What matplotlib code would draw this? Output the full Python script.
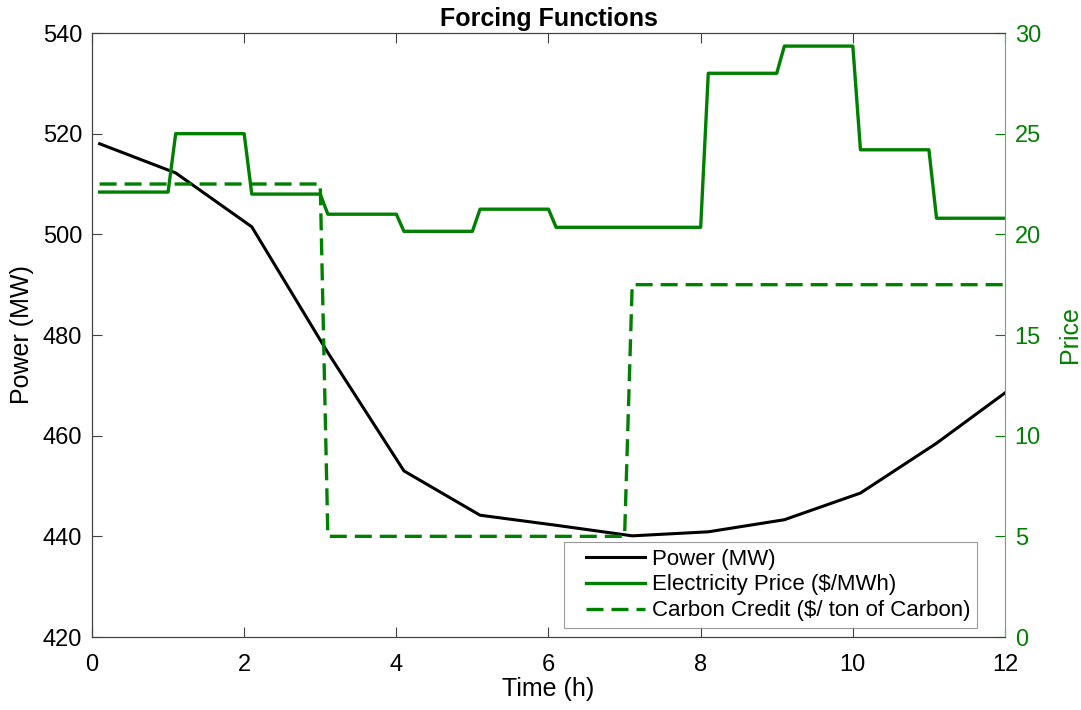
import numpy as np
import matplotlib.pyplot as plt
from matplotlib.lines import Line2D
from matplotlib.legend_handler import HandlerLine2D

plt.rcParams['font.family'] = ['Liberation Sans', 'DejaVu Sans']

# power samples (MW)
t_power = [0.1, 1.1, 2.1, 3.1, 4.1, 5.1, 6.1, 7.1, 8.1, 9.1, 10.1, 11.1, 12.0]
power = [518.0, 512.2, 501.5, 476.5, 453.0, 444.2, 442.2, 440.1, 440.9, 443.3, 448.6, 458.5, 468.5]

# hourly blocks, each held from h+0.1 to h+1.0
hours = list(range(12))
elec_price = [22.1, 25.0, 22.0, 21.0, 20.15, 21.25, 20.35, 20.35, 28.0, 29.35, 24.2, 20.8]
carbon_credit = [22.5, 22.5, 22.5, 5.0, 5.0, 5.0, 5.0, 17.5, 17.5, 17.5, 17.5, 17.5]


def blocks(vals):
    xs, ys = [], []
    for h, v in zip(hours, vals):
        xs += [h + 0.1, h + 1.0]
        ys += [v, v]
    xs[-1] = 12.0
    return xs, ys


class PadLeft(HandlerLine2D):
    # legend line starts a bit further in, like matlab
    def create_artists(self, legend, orig_handle, xdescent, ydescent, width,
                       height, fontsize, trans):
        arts = super().create_artists(legend, orig_handle, xdescent, ydescent,
                                      width, height, fontsize, trans)
        x = np.array(arts[0].get_xdata(), dtype=float)
        x[0] += 0.7 * fontsize
        arts[0].set_xdata(x)
        return arts


green = '#008000'
axcol = '#404040'
dash = (0, (5.1, 2.4))

fig = plt.figure(figsize=(10.81, 7.10), dpi=100)
ax = fig.add_axes([0.0851, 0.1028, 0.8446, 0.8507])
ax2 = ax.twinx()

ax.plot(t_power, power, color='black', lw=2.2)
xe, ye = blocks(elec_price)
ax2.plot(xe, ye, color=green, lw=2.4)
xc, yc = blocks(carbon_credit)
ax2.plot(xc, yc, color=green, lw=2.4, ls=dash)

ax.set_xlim(0, 12)
ax.set_ylim(420, 540)
ax2.set_ylim(0, 30)
ax.set_xticks(range(0, 13, 2))
ax.set_yticks(range(420, 541, 20))
ax2.set_yticks(range(0, 31, 5))

ax.tick_params(direction='in', length=7, width=0.8, labelsize=17, colors='black',
               top=True, pad=7)
ax.tick_params(axis='x', pad=12)
ax.tick_params(axis='both', color=axcol)
ax2.tick_params(direction='in', length=7, width=0.8, labelsize=17, colors=green, pad=7)
for s in ['left', 'top', 'bottom']:
    ax.spines[s].set_color(axcol)
    ax2.spines[s].set_color(axcol)
ax2.spines['right'].set_color('#60b060')
ax.spines['right'].set_visible(False)

ax.set_xlabel('Time (h)', fontsize=18, labelpad=1)
ax.set_ylabel('Power (MW)', fontsize=18, labelpad=6)
ax2.set_ylabel('Price', fontsize=18, color=green, labelpad=12)
ax.set_title('Forcing Functions', fontsize=18, fontweight='bold', pad=5)

handles = [Line2D([], [], color='black', lw=2.2),
           Line2D([], [], color=green, lw=2.4),
           Line2D([], [], color=green, lw=2.4, ls=dash)]
labels = ['Power (MW)', 'Electricity Price ($/MWh)', 'Carbon Credit ($/ ton of Carbon)']
leg = ax2.legend(handles, labels, loc='lower right', bbox_to_anchor=(0.9693, 0.0149),
                 fontsize=16, frameon=True, fancybox=False, handlelength=3.35,
                 handletextpad=0.3, borderpad=0.3, labelspacing=0.22, borderaxespad=0.0,
                 handler_map={Line2D: PadLeft()})
leg.get_frame().set_edgecolor('#808080')
leg.get_frame().set_linewidth(0.8)

fig.savefig('out.png', dpi=100)
